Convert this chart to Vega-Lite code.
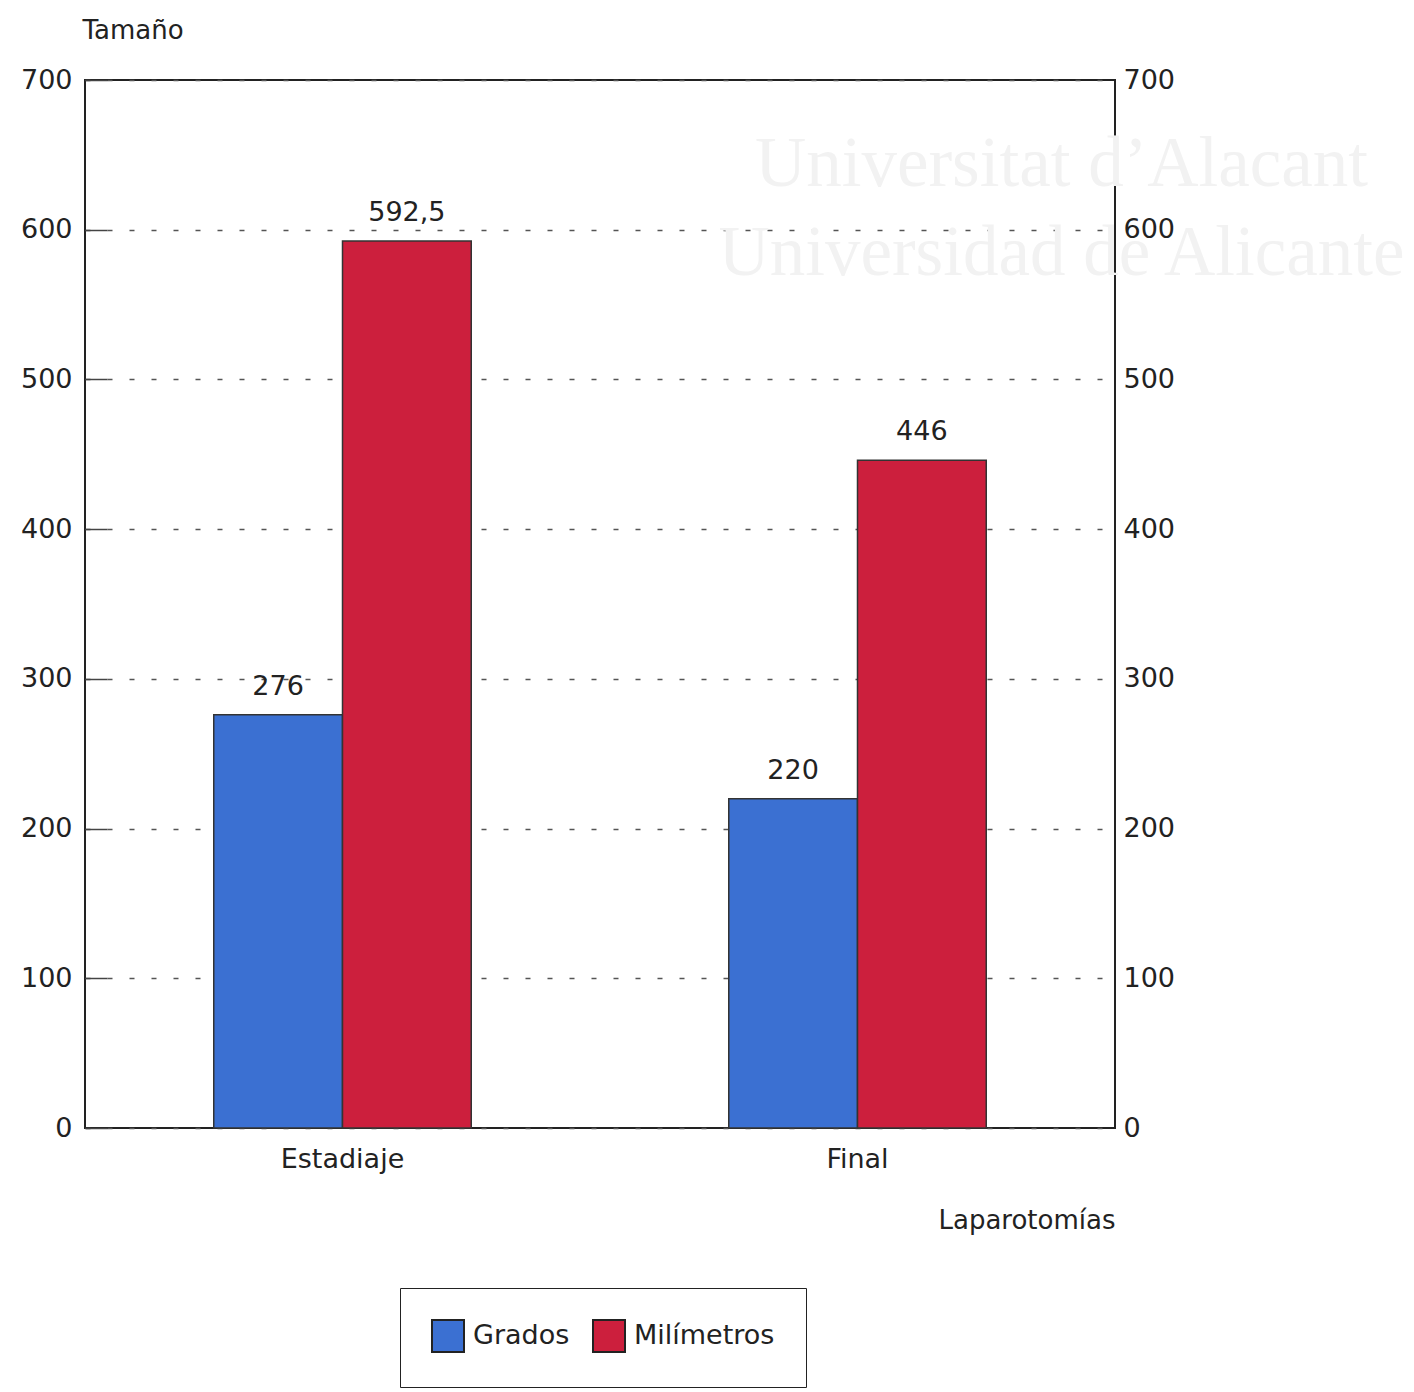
{
  "$schema": "https://vega.github.io/schema/vega-lite/v6.json",
  "width": 1030,
  "height": 1048,
  "autosize": {"type": "none"},
  "padding": {"left": 85, "top": 80, "right": 299, "bottom": 264},
  "background": "white",
  "config": {
    "font": "DejaVu Sans",
    "view": {"stroke": "#222222", "strokeWidth": 2},
    "axis": {"labelColor": "#222222", "titleColor": "#222222", "labelFontSize": 27, "titleFontSize": 26, "titleFontWeight": "normal", "labelFont": "DejaVu Sans", "titleFont": "DejaVu Sans"},
    "legend": {"labelFont": "DejaVu Sans"}
  },
  "data": {
    "values": [
      {"laparotomia": "Estadiaje", "serie": "Grados", "tamano": 276, "etiqueta": "276"},
      {"laparotomia": "Estadiaje", "serie": "Milímetros", "tamano": 592.5, "etiqueta": "592,5"},
      {"laparotomia": "Final", "serie": "Grados", "tamano": 220, "etiqueta": "220"},
      {"laparotomia": "Final", "serie": "Milímetros", "tamano": 446, "etiqueta": "446"}
    ]
  },
  "layer": [
    {
      "data": {"values": [
        {"laparotomia": "Final", "tamano": 629, "texto": "Universitat d’Alacant"},
        {"laparotomia": "Final", "tamano": 570, "texto": "Universidad de Alicante"}
      ]},
      "mark": {"type": "text", "font": "Liberation Serif", "fontSize": 71, "color": "#f2f2f2", "align": "center", "baseline": "alphabetic", "dx": 204},
      "encoding": {
        "x": {"field": "laparotomia", "type": "nominal", "sort": ["Estadiaje", "Final"], "scale": {"domain": ["Estadiaje", "Final"], "paddingInner": 0.5, "paddingOuter": 0.25}},
        "y": {"field": "tamano", "type": "quantitative", "scale": {"domain": [0, 700], "nice": false}, "axis": null},
        "text": {"field": "texto"}
      }
    },
    {
      "mark": {"type": "bar", "stroke": "#333333", "strokeWidth": 1.5},
      "encoding": {
        "x": {
          "field": "laparotomia", "type": "nominal", "sort": ["Estadiaje", "Final"],
          "scale": {"domain": ["Estadiaje", "Final"], "paddingInner": 0.5, "paddingOuter": 0.25},
          "axis": {"labelAngle": 0, "labelAlign": "center", "domain": false, "ticks": false, "labelPadding": 31, "title": "Laparotomías", "titleX": 1030, "titleY": 92, "titleAlign": "right", "titleAnchor": "end", "titleBaseline": "middle"}
        },
        "xOffset": {"field": "serie", "type": "nominal", "sort": ["Grados", "Milímetros"], "scale": {"paddingInner": 0, "paddingOuter": 0}},
        "y": {
          "field": "tamano", "type": "quantitative", "scale": {"domain": [0, 700], "nice": false},
          "axis": {"orient": "left", "values": [0, 100, 200, 300, 400, 500, 600, 700], "domain": false, "ticks": true, "tickSize": -22, "tickColor": "#444444", "tickWidth": 1.5, "labelPadding": 35, "grid": true, "gridDash": [5, 17], "gridColor": "#555555", "gridWidth": 1.5, "title": "Tamaño", "titleAngle": 0, "titleX": -3, "titleY": -50, "titleAlign": "left", "titleBaseline": "middle"}
        },
        "color": {
          "field": "serie", "type": "nominal",
          "scale": {"domain": ["Grados", "Milímetros"], "range": ["#3b70d2", "#cc1f3d"]},
          "legend": {"orient": "none", "legendX": 315, "legendY": 1208, "direction": "horizontal", "title": null, "symbolType": "square", "symbolSize": 1024, "symbolStrokeColor": "#222222", "symbolStrokeWidth": 2, "symbolOpacity": 1, "labelFontSize": 27, "labelColor": "#222222", "labelOffset": 8, "columnPadding": 19, "padding": 31, "strokeColor": "#222222"}
        }
      }
    },
    {
      "mark": {"type": "text", "baseline": "alphabetic", "align": "center", "dy": -20, "fontSize": 27, "font": "DejaVu Sans", "color": "#222222"},
      "encoding": {
        "x": {"field": "laparotomia", "type": "nominal", "sort": ["Estadiaje", "Final"], "scale": {"domain": ["Estadiaje", "Final"], "paddingInner": 0.5, "paddingOuter": 0.25}},
        "xOffset": {"field": "serie", "type": "nominal", "sort": ["Grados", "Milímetros"], "scale": {"paddingInner": 0, "paddingOuter": 0}},
        "y": {
          "field": "tamano", "type": "quantitative", "scale": {"domain": [0, 700], "nice": false},
          "axis": {"orient": "right", "values": [0, 100, 200, 300, 400, 500, 600, 700], "domain": false, "ticks": false, "labelPadding": 8, "grid": false, "title": null}
        },
        "text": {"field": "etiqueta"}
      }
    }
  ],
  "resolve": {"axis": {"y": "independent"}}
}
